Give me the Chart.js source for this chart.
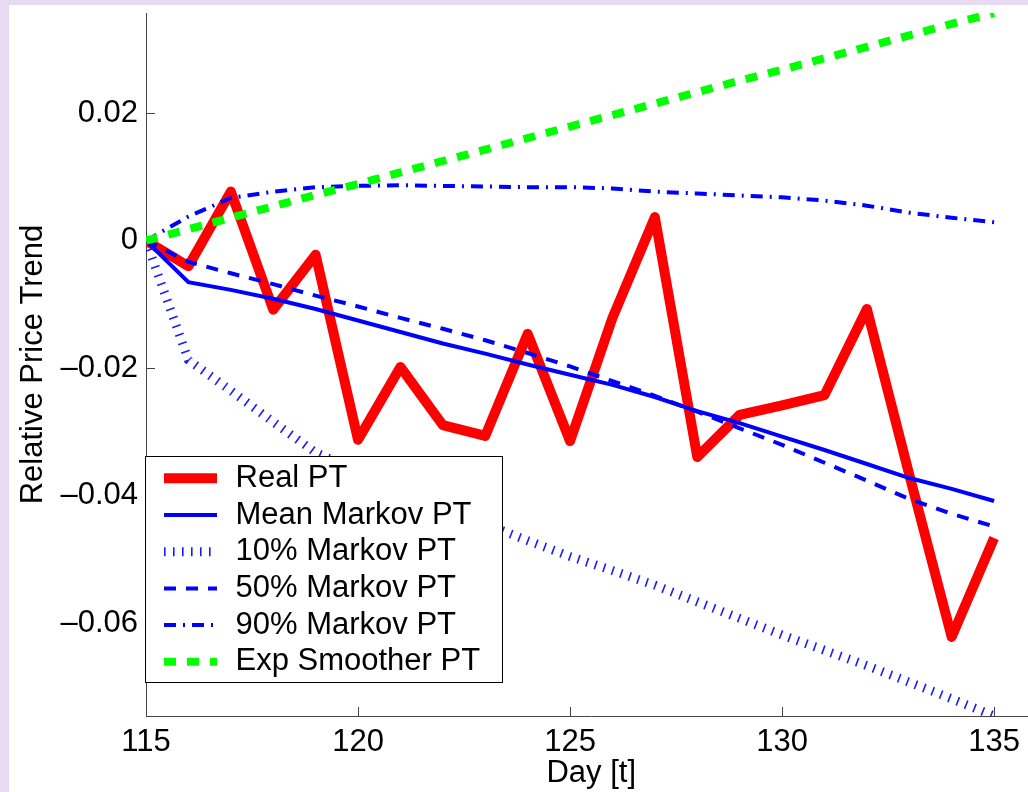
<!DOCTYPE html>
<html>
<head>
<meta charset="utf-8">
<script src="https://cdn.jsdelivr.net/npm/chart.js@4.4.1/dist/chart.umd.min.js"></script>
<style>
    html, body { margin: 0; padding: 0; overflow: hidden; background: #e9daf4; }
    #plot-wrap { position: absolute; left: 9px; top: 5px; width: 1031px; height: 787px; background: #fff; }
</style>
</head>
<body>
<div id="plot-wrap"><canvas id="trend-chart"></canvas></div>
<script>
// values
const days = [115, 116, 117, 118, 119, 120, 121, 122, 123, 124, 125, 126, 127, 128, 129, 130, 131, 132, 133, 134, 135];
const realPT = [0, -0.0040, 0.0077, -0.0108, -0.0022, -0.0312, -0.0198, -0.0289, -0.0306, -0.0146, -0.0314, -0.0121, 0.0037, -0.0339, -0.0273, -0.0258, -0.0242, -0.0107, -0.0367, -0.0621, -0.0466];
const meanMarkovPT = [0, -0.0065, -0.0077, -0.0091, -0.0107, -0.0125, -0.0143, -0.0161, -0.0177, -0.0194, -0.0210, -0.0226, -0.0245, -0.0267, -0.0286, -0.0307, -0.0328, -0.0350, -0.0372, -0.0389, -0.0408];
const markov10PT = [0, -0.0187, -0.0235, -0.0284, -0.0332, -0.0361, -0.0390, -0.0417, -0.0444, -0.0470, -0.0495, -0.0517, -0.0540, -0.0566, -0.0592, -0.0618, -0.0642, -0.0666, -0.0692, -0.0718, -0.0745];
const markov50PT = [0, -0.0033, -0.0051, -0.0068, -0.0086, -0.0103, -0.0121, -0.0138, -0.0156, -0.0176, -0.0197, -0.0220, -0.0243, -0.0268, -0.0294, -0.0320, -0.0348, -0.0376, -0.0405, -0.0428, -0.0448];
const markov90PT = [0, 0.0038, 0.0067, 0.0077, 0.0084, 0.0086, 0.0087, 0.0086, 0.0085, 0.0084, 0.0084, 0.0082, 0.0077, 0.0074, 0.0071, 0.0068, 0.0063, 0.0055, 0.0044, 0.0036, 0.0029];
const expSmootherPT = [0, 0.0018, 0.0036, 0.0054, 0.0072, 0.0089, 0.0107, 0.0125, 0.0143, 0.0161, 0.0179, 0.0197, 0.0215, 0.0233, 0.0251, 0.0268, 0.0286, 0.0304, 0.0322, 0.0340, 0.0357];

const seriesNames = ['Real PT', 'Mean Markov PT', '10% Markov PT', '50% Markov PT', '90% Markov PT', 'Exp Smoother PT'];

const xTicks = [115, 120, 125, 130, 135];
const yTicks = [-0.06, -0.04, -0.02, 0, 0.02];
const yTickLabels = ['\u20130.06', '\u20130.04', '\u20130.02', '0', '0.02'];

const FONT = '"Liberation Sans", Arial, Helvetica, sans-serif';
const AXIS_COLOR = '#444';

const toPoints = vals => vals.map((v, i) => ({ x: days[i], y: v }));

// MATLAB style ticks pointing into the plot
const inwardTicks = {
    id: 'inwardTicks',
    beforeDatasetsDraw(chart) {
        const { ctx, chartArea: a, scales: { x, y } } = chart;
        ctx.save();
        ctx.strokeStyle = AXIS_COLOR;
        ctx.lineWidth = 1;
        ctx.beginPath();
        xTicks.forEach(v => {
            const px = Math.round(x.getPixelForValue(v)) + 0.5;
            ctx.moveTo(px, a.bottom);
            ctx.lineTo(px, a.bottom - 9);
        });
        yTicks.forEach(v => {
            const py = Math.round(y.getPixelForValue(v)) + 0.5;
            ctx.moveTo(a.left, py);
            ctx.lineTo(a.left + 9, py);
        });
        ctx.stroke();
        ctx.restore();
    }
};

// boxed legend in the lower left corner of the axes
const boxLegend = {
    id: 'boxLegend',
    afterDatasetsDraw(chart) {
        const { ctx, chartArea: a } = chart;
        const left = a.left - 0.5;
        const top = a.bottom - 259.5;
        const w = 357, h = 226, rowH = 36.7;
        ctx.save();
        ctx.fillStyle = '#fff';
        ctx.fillRect(left, top, w, h);
        ctx.strokeStyle = '#000';
        ctx.lineWidth = 1;
        ctx.strokeRect(left, top, w, h);
        ctx.font = '31px ' + FONT;
        ctx.textBaseline = 'middle';
        ctx.textAlign = 'left';
        chart.data.datasets.forEach((ds, i) => {
            const cy = top + 21.8 + rowH * i;
            ctx.save();
            ctx.strokeStyle = ds.borderColor;
            ctx.lineWidth = ds.borderWidth;
            ctx.lineCap = 'butt';
            ctx.setLineDash(ds.borderDash || []);
            ctx.beginPath();
            ctx.moveTo(left + 18.5, cy);
            ctx.lineTo(left + 71.5, cy);
            ctx.stroke();
            ctx.restore();
            ctx.fillStyle = '#000';
            ctx.fillText(ds.label, left + 90, cy);
        });
        ctx.restore();
    }
};

const lineBase = { pointRadius: 0, tension: 0, fill: false, borderCapStyle: 'butt' };

const ctx = document.getElementById('trend-chart').getContext('2d');
const trendChart = new Chart(ctx, {
    type: 'line',
    data: {
        datasets: [
            { ...lineBase, label: seriesNames[0], data: toPoints(realPT), borderColor: '#ff0000', borderWidth: 10, borderJoinStyle: 'round', order: 5 },
            { ...lineBase, label: seriesNames[1], data: toPoints(meanMarkovPT), borderColor: '#0000ff', borderWidth: 4, order: 4 },
            { ...lineBase, label: seriesNames[2], data: toPoints(markov10PT), borderColor: '#1a1aff', borderWidth: 9, borderDash: [1.6, 7.4], order: 3 },
            { ...lineBase, label: seriesNames[3], data: toPoints(markov50PT), borderColor: '#0000ff', borderWidth: 4, borderDash: [12, 10], order: 2 },
            { ...lineBase, label: seriesNames[4], data: toPoints(markov90PT), borderColor: '#0000ff', borderWidth: 4, borderDash: [12, 7, 2, 7], order: 1 },
            { ...lineBase, label: seriesNames[5], data: toPoints(expSmootherPT), borderColor: '#00ff00', borderWidth: 8, borderDash: [12, 11], order: 0 }
        ]
    },
    options: {
        responsive: true,
        maintainAspectRatio: false,
        animation: false,
        layout: { padding: { top: 8, right: 3.5, left: 0, bottom: 0 } },
        plugins: {
            legend: { display: false },
            tooltip: { enabled: false }
        },
        scales: {
            x: {
                type: 'linear',
                min: 115,
                max: 136,
                grid: { display: false, drawTicks: false },
                border: { display: true, color: AXIS_COLOR, width: 1 },
                afterBuildTicks: s => { s.ticks = xTicks.map(v => ({ value: v })); },
                afterFit: s => { s.height = 76; s.paddingLeft = 0; s.paddingRight = 0; },
                ticks: {
                    padding: 8,
                    maxRotation: 0,
                    color: '#000',
                    font: { family: FONT, size: 31 },
                    callback: v => String(v)
                },
                title: {
                    display: true,
                    text: 'Day [t]',
                    color: '#000',
                    font: { family: FONT, size: 31 },
                    padding: { top: 0, bottom: 0 }
                }
            },
            y: {
                type: 'linear',
                min: -0.0745,
                max: 0.0357,
                grid: { display: false, drawTicks: false },
                border: { display: true, color: AXIS_COLOR, width: 1 },
                afterBuildTicks: s => { s.ticks = yTicks.map(v => ({ value: v })); },
                afterFit: s => { s.width = 137; s.paddingTop = 0; s.paddingBottom = 0; },
                ticks: {
                    padding: 8,
                    color: '#000',
                    font: { family: FONT, size: 31 },
                    callback: (v, i) => yTickLabels[i]
                },
                title: {
                    display: true,
                    text: 'Relative Price Trend',
                    color: '#000',
                    font: { family: FONT, size: 31 },
                    padding: { top: 6, bottom: 0 }
                }
            }
        }
    },
    plugins: [inwardTicks, boxLegend]
});
</script>
</body>
</html>
